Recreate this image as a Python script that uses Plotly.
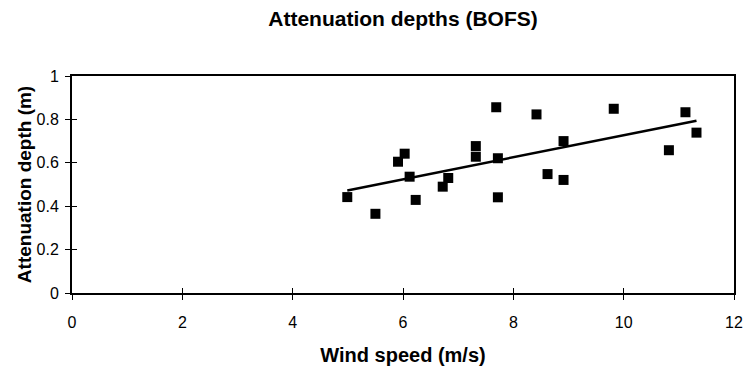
import numpy as np
import plotly.graph_objects as go

wind_speed = [4.99, 5.50, 5.91, 6.03, 6.12, 6.23, 6.72, 6.82, 7.32, 7.32,
              7.69, 7.72, 7.72, 8.42, 8.62, 8.91, 8.91, 9.82, 10.82, 11.12, 11.32]
atten_depth = [0.442, 0.365, 0.605, 0.642, 0.536, 0.429, 0.490, 0.530, 0.677, 0.628,
               0.856, 0.621, 0.441, 0.823, 0.548, 0.700, 0.521, 0.849, 0.658, 0.833, 0.739]

x_ticks = [0, 2, 4, 6, 8, 10, 12]
y_ticks = [0, 0.2, 0.4, 0.6, 0.8, 1]

slope, intercept = np.polyfit(wind_speed, atten_depth, 1)
fit_x = np.array([min(wind_speed), max(wind_speed)])
fit_y = slope * fit_x + intercept

FONT = "Liberation Sans, Arial, sans-serif"

fig = go.Figure()
fig.add_trace(go.Scatter(
    x=wind_speed, y=atten_depth, mode="markers",
    marker=dict(symbol="square", size=10, color="black"),
    showlegend=False, hoverinfo="x+y"))
fig.add_trace(go.Scatter(
    x=fit_x, y=fit_y, mode="lines",
    line=dict(color="black", width=2.5),
    showlegend=False, hoverinfo="skip"))

fig.update_layout(
    width=748, height=372,
    margin=dict(l=72, r=14, t=76, b=79, autoexpand=False),
    paper_bgcolor="white", plot_bgcolor="white",
    font=dict(family=FONT, color="black", size=16),
    title=dict(text="<b>Attenuation depths (BOFS)</b>", x=0.5, xref="paper",
               xanchor="center", y=0.95, yanchor="middle",
               font=dict(size=21, family=FONT)),
    xaxis=dict(range=[0, 12], tickvals=x_ticks, showgrid=False, zeroline=False,
               automargin=False,
               showline=True, linecolor="black", linewidth=2, mirror=True,
               ticks="outside", ticklen=5, tickwidth=1, tickcolor="black",
               ticklabelstandoff=9, tickfont=dict(size=16),
               title=dict(text="<b>Wind speed (m/s)</b>", font=dict(size=20), standoff=18)),
    yaxis=dict(range=[0, 1], tickvals=y_ticks, showgrid=False, zeroline=False,
               automargin=False,
               showline=True, linecolor="black", linewidth=2, mirror=True,
               ticks="outside", ticklen=5, tickwidth=1, tickcolor="black",
               ticklabelstandoff=3, tickfont=dict(size=16),
               title=dict(text="<b>Attenuation depth (m)</b>", font=dict(size=19), standoff=0)),
    xaxis2=dict(range=[0, 12], tickvals=x_ticks, overlaying="x", side="bottom",
                automargin=False,
                showgrid=False, zeroline=False, showline=False, showticklabels=False,
                ticks="inside", ticklen=5, tickwidth=1, tickcolor="black"),
    yaxis2=dict(range=[0, 1], tickvals=y_ticks, overlaying="y", side="left",
                automargin=False,
                showgrid=False, zeroline=False, showline=False, showticklabels=False,
                ticks="inside", ticklen=5, tickwidth=1, tickcolor="black"),
)
fig.add_trace(go.Scatter(x=[], y=[], xaxis="x2", yaxis="y2", showlegend=False,
                         hoverinfo="skip"))

fig.write_html("out.html")
